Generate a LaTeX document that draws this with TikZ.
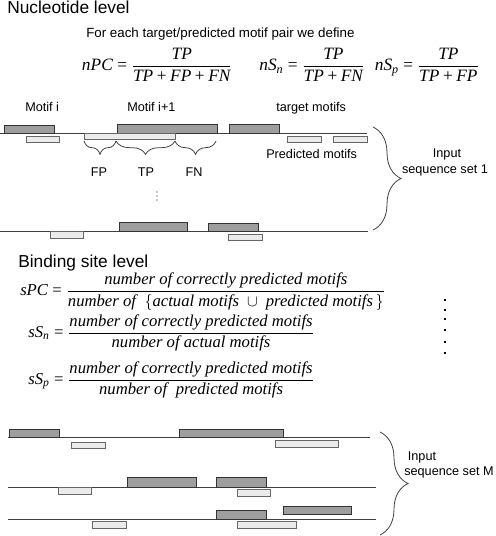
\documentclass[tikz,border=0pt]{standalone}
\usepackage{amsmath}
\usepackage{fontspec}
\setmainfont{Liberation Sans}
\newfontfamily\tms{Liberation Serif}
\usetikzlibrary{decorations.pathreplacing}
\newcommand{\ti}[1]{\text{\tms\itshape #1}}
\newcommand{\tr}[1]{\text{\tms #1}}
\newcommand{\teq}{\mathrel{\tr{=}}}
\newcommand{\tplus}{\mathbin{\tr{+}}}
\begin{document}
\begin{tikzpicture}[x=0.75pt,y=-0.75pt,
  tgt/.style={draw=black!80, fill=black!38, line width=0.75pt},
  prd/.style={draw=black!60, fill=black!8, line width=0.75pt},
  seq/.style={draw=black!75, line width=0.75pt},
  lbl/.style={font=\fontsize{9.5}{11}\selectfont, inner sep=0pt},
  head/.style={font=\fontsize{13}{15}\selectfont, inner sep=0pt, anchor=base west},
  frm/.style={font=\fontsize{13}{15}\selectfont, inner sep=0pt},
  bfrm/.style={font=\fontsize{12.5}{15}\selectfont, inner sep=0pt, anchor=west},
  smallbrace/.style={decorate, decoration={brace, mirror, amplitude=10pt}, draw=black!75, line width=0.6pt},
  bigbrace/.style={decorate, decoration={brace, amplitude=21pt}, draw=black!75, line width=0.6pt},
  vdot/.style={fill=black, inner sep=0pt, minimum size=2.2pt}]
\useasboundingbox (0,0) rectangle (496,536);

% ---------- Nucleotide level ----------
\node[head] (nuc) at (7,13) {Nucleotide level};
\node[lbl, anchor=base west, font=\fontsize{10}{12}\selectfont] (def) at (86,37) {For each target/predicted motif pair we define};
\node[frm] (npc) at (157,65) {$\displaystyle \ti{nPC}\teq\frac{\ti{TP}}{\ti{TP}\tplus\ti{FP}\tplus\ti{FN}}$};
\node[frm] (nsn) at (312,65) {$\displaystyle \ti{nS}_{\ti{n}}\teq\frac{\ti{TP}}{\ti{TP}\tplus\ti{FN}}$};
\node[frm] (nsp) at (427,65) {$\displaystyle \ti{nS}_{\ti{p}}\teq\frac{\ti{TP}}{\ti{TP}\tplus\ti{FP}}$};

\node[lbl, anchor=base west] (mi) at (25,111) {Motif i};
\node[lbl, anchor=base west] (mi1) at (127,111) {Motif i+1};
\node[lbl, anchor=base west] (tm) at (276,111) {target motifs};

% sequence 1 of set 1
\draw[seq] (0,133.5) -- (367,133.5);
\draw[tgt] (4,125) rectangle (54,133.5);
\draw[tgt] (117,124) rectangle (217,133.5);
\draw[tgt] (229,124) rectangle (279,133.5);
\draw[prd] (26,136) rectangle (59,142.5);
\draw[prd] (84,133.5) rectangle (175,139.5);
\draw[prd] (287,136) rectangle (321,142.5);
\draw[prd] (333,136) rectangle (367,142.5);
\node[lbl, anchor=base west] (pm) at (266,158) {Predicted motifs};

% FP / TP / FN braces
\coordinate (b0) at (84,141);
\coordinate (b1) at (116,141);
\coordinate (b2) at (175,141);
\coordinate (b3) at (216,141);
\draw[smallbrace] (b0) -- (b1);
\draw[smallbrace] (b1) -- (b2);
\draw[smallbrace] (b2) -- (b3);
\node[lbl, anchor=base] (fp) at (99,176) {FP};
\node[lbl, anchor=base] (tp) at (146,176) {TP};
\node[lbl, anchor=base] (fn) at (194,176) {FN};

% vertical ellipsis
\fill (157,192) circle (0.6);
\fill (157,196) circle (0.6);
\fill (157,200) circle (0.6);

% last sequence of set 1
\draw[seq] (0,231) -- (368,231);
\draw[tgt] (119,222) rectangle (187,231);
\draw[tgt] (208,223) rectangle (258,231);
\draw[prd] (50,231) rectangle (83,238);
\draw[prd] (228,234) rectangle (262,240);

% brace for set 1
\coordinate (s1t) at (373,127);
\coordinate (s1b) at (373,230);
\draw[bigbrace] (s1t) -- (s1b);
\node[lbl, anchor=base] (in1) at (447,157) {Input};
\node[lbl, anchor=base] (ss1) at (445,173) {sequence set 1};

% ---------- Binding site level ----------
\node[head] (bsl) at (18,267) {Binding site level};
\node[bfrm] (spc) at (20,292) {$\displaystyle \ti{sPC}\teq\frac{\ti{number of correctly predicted motifs}}{\ti{number of }\;\{\ti{actual motifs}\;\cup\;\ti{predicted motifs}\,\}}$};
\node[bfrm] (ssn) at (28,333) {$\displaystyle \ti{sS}_{\ti{n}}\teq\frac{\ti{number of correctly predicted motifs}}{\ti{number of actual motifs}}$};
\node[bfrm] (ssp) at (28,380) {$\displaystyle \ti{sS}_{\ti{p}}\teq\frac{\ti{number of correctly predicted motifs}}{\ti{number of }\;\ti{predicted motifs}}$};

% vertical dots between sets
\foreach \yy [count=\i] in {300,310,319,330,342,353}
  \node[vdot] (d\i) at (445,\yy) {};

% ---------- Set M ----------
\draw[seq] (8,437) -- (370,437);
\draw[tgt] (9,429) rectangle (59,437);
\draw[tgt] (179,429) rectangle (283,437);
\draw[prd] (71,442) rectangle (105,448);
\draw[prd] (275,440) rectangle (338,447);

\draw[seq] (8,487) -- (376,487);
\draw[tgt] (127,477) rectangle (196,487);
\draw[tgt] (216,477) rectangle (266,487);
\draw[prd] (58,487) rectangle (91,494);
\draw[prd] (237,489) rectangle (270,496);

\draw[seq] (8,519) -- (376,519);
\draw[tgt] (216,510) rectangle (266,519);
\draw[tgt] (283,506) rectangle (351,514);
\draw[prd] (92,521) rectangle (126,528);
\draw[prd] (237,521) rectangle (296,528);

\coordinate (sMt) at (380,432);
\coordinate (sMb) at (380,535);
\draw[bigbrace] (sMt) -- (sMb);
\node[lbl, anchor=base] (inM) at (422,460) {Input};
\node[lbl, anchor=base] (ssM) at (449,475) {sequence set M};
\end{tikzpicture}
\end{document}
